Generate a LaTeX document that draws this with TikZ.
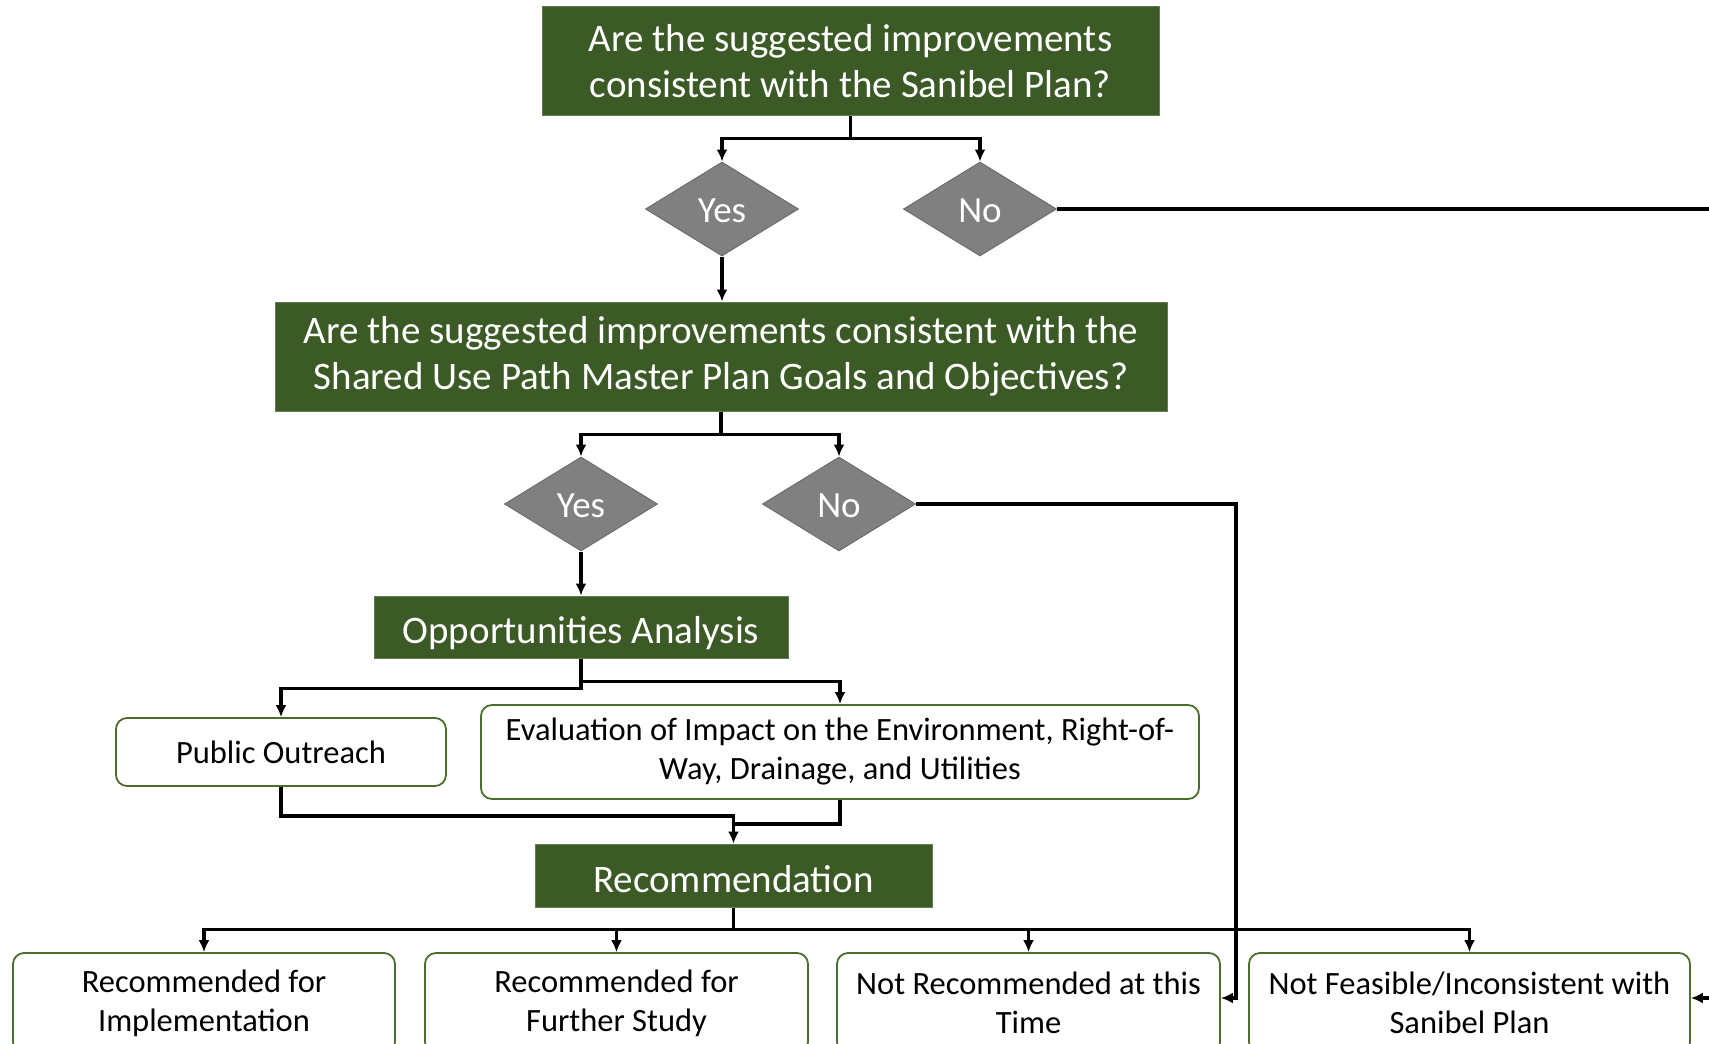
\documentclass[tikz,border=0pt]{standalone}
\usepackage{fontspec}
\setmainfont{Carlito}
\usetikzlibrary{shapes.geometric,arrows.meta}
\definecolor{dkgreen}{HTML}{3B5A25}
\definecolor{dgray}{HTML}{808080}
\definecolor{bordgreen}{HTML}{4B6E2F}
\begin{document}
\begin{tikzpicture}[x=1pt,y=-1pt,
  greenbox/.style={fill=dkgreen, draw=dkgreen!80!white, line width=1pt, text=white, align=center, inner sep=0pt, font=\fontsize{39}{46}\selectfont},
  dec/.style={diamond, fill=dgray, draw=dgray!85!black, line width=1pt, text=white, minimum width=153pt, minimum height=94pt, inner sep=0pt, text height=27.5pt, text depth=0pt, font=\fontsize{37}{40}\selectfont},
  whitebox/.style={draw=bordgreen, line width=1.8pt, rounded corners=11pt, fill=white, align=center, inner sep=0pt, font=\fontsize{32.5}{39}\selectfont},
  conn/.style={line width=3.3pt, black},
  arr/.style={conn, -{Latex[length=12pt,width=11pt]}}
]
\useasboundingbox (0,0) rectangle (1709,1044);

\node[greenbox, minimum width=617pt, minimum height=109pt] (q1) at (850.5,61) {Are the suggested improvements\\consistent with the Sanibel Plan?};
\node[dec] (yes1) at (722,209) {Yes};
\node[dec] (no1) at (980,209) {No};
\node[greenbox, minimum width=892pt, minimum height=109pt] (q2) at (721,356.5) {Are the suggested improvements consistent with the\\Shared Use Path Master Plan Goals and Objectives?};
\node[dec] (yes2) at (581,504) {Yes};
\node[dec] (no2) at (839,504) {No};
\node[greenbox, minimum width=414pt, minimum height=62pt, text height=33pt, text depth=0pt] (opp) at (581,627) {Opportunities Analysis};
\node[whitebox, minimum width=330pt, minimum height=68pt] (po) at (281,752) {Public Outreach};
\node[whitebox, minimum width=718pt, minimum height=94pt] (ev) at (840,752) {Evaluation of Impact on the Environment, Right-of-\\Way, Drainage, and Utilities};
\node[greenbox, minimum width=397pt, minimum height=63pt, text height=33pt, text depth=0pt] (rec) at (733.5,875.5) {Recommendation};
\node[whitebox, minimum width=382pt, minimum height=100pt] (r1) at (204,1003) {Recommended for\\Implementation};
\node[whitebox, minimum width=383pt, minimum height=100pt] (r2) at (616.5,1003) {Recommended for\\Further Study};
\node[whitebox, minimum width=383pt, minimum height=100pt] (r3) at (1028.5,1003) {Not Recommended at this\\Time};
\node[whitebox, minimum width=441pt, minimum height=100pt] (r4) at (1469.5,1003) {Not Feasible/Inconsistent with\\Sanibel Plan};

\coordinate (offR) at (1760,209);
\coordinate (c2) at (1236,504);

\draw[conn] (q1.south) -- ++(0,22.5) coordinate (b1);
\draw[arr] (b1) -| (yes1.north);
\draw[arr] (b1) -| (no1.north);
\draw[arr] (yes1.south) -- (yes1.south |- q2.north);
\draw[arr] (no1.east) -- (offR) |- ([yshift=5pt]r4.east);

\draw[conn] (q2.south) -- ++(0,23) coordinate (b2);
\draw[arr] (b2) -| (yes2.north);
\draw[arr] (b2) -| (no2.north);
\draw[arr] (yes2.south) -- (opp.north);
\draw[arr] (no2.east) -- (c2) |- ([yshift=5pt]r3.east);

\draw[arr] (opp.south) -- ++(0,30) -| (po.north);
\draw[arr] (opp.south) -- ++(0,23) -| (ev.north);
\draw[arr] (po.south) -- ++(0,29) -| (rec.north);
\draw[conn] (ev.south) -- ++(0,24) -| ([yshift=29pt]rec.north);

\draw[conn] (rec.south) -- ++(0,22) coordinate (b3);
\draw[arr] (b3) -| (r1.north);
\draw[arr] (b3) -| (r2.north);
\draw[arr] (b3) -| (r3.north);
\draw[arr] (b3) -| (r4.north);
\end{tikzpicture}
\end{document}
